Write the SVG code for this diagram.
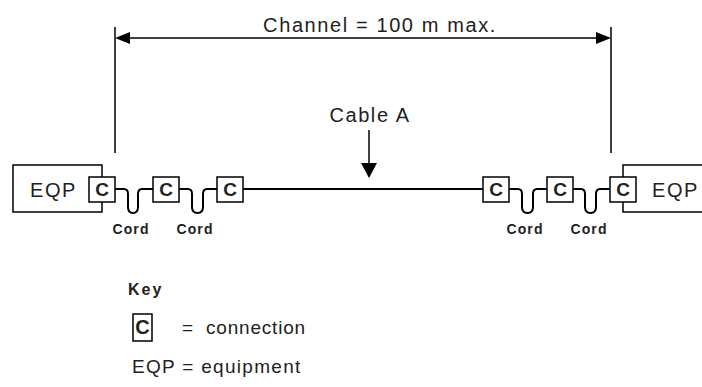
<svg xmlns="http://www.w3.org/2000/svg" width="702" height="387" viewBox="0 0 702 387">
<style>
  .ln { stroke:#000; stroke-width:1.5; fill:none; }
  .cab { stroke:#000; stroke-width:2; fill:none; }
  .box { stroke:#000; stroke-width:1.5; fill:#fff; }
  .t { font-family:"Liberation Sans", Arial, sans-serif; font-size:20px; fill:#222; letter-spacing:1.6px; }
  .c { font-family:"Liberation Sans", Arial, sans-serif; font-size:19px; font-weight:bold; fill:#222; text-anchor:middle; }
  .cord { font-family:"Liberation Sans", Arial, sans-serif; font-size:14px; font-weight:bold; fill:#222; text-anchor:middle; letter-spacing:1.1px; }
  .k { font-family:"Liberation Sans", Arial, sans-serif; font-size:19px; fill:#222; letter-spacing:0.8px; }
</style>
<g id="channel">
  <line class="ln" x1="115" y1="27" x2="115" y2="153"/>
  <line class="ln" x1="611" y1="27" x2="611" y2="153"/>
  <line class="ln" x1="128" y1="38" x2="598" y2="38"/>
  <polygon points="115,38 130,32 130,44" fill="#000"/>
  <polygon points="611,38 596,32 596,44" fill="#000"/>
  <text class="t" x="380" y="32" text-anchor="middle">Channel = 100 m max.</text>
</g>
<g id="cableA-label">
  <text class="t" x="370" y="122" text-anchor="middle">Cable A</text>
  <line class="ln" x1="369" y1="130" x2="369" y2="164"/>
  <polygon points="361,163 377,163 369,178" fill="#000"/>
</g>
<g id="connectors">
  <line class="cab" x1="242" y1="189" x2="483" y2="189"/>
  <path class="cab" d="M115,189 H124 Q128,189 128,194 V207 Q128,213 133,213 Q138,213 138,207 V194 Q138,189 142,189 H153"/>
  <path class="cab" d="M179,189 H188 Q192,189 192,194 V207 Q192,213 197.5,213 Q203,213 203,207 V194 Q203,189 207,189 H217"/>
  <path class="cab" d="M509,189 H518 Q522,189 522,194 V207 Q522,213 527.5,213 Q533,213 533,207 V194 Q533,189 537,189 H547"/>
  <path class="cab" d="M572,189 H581 Q585,189 585,194 V207 Q585,213 590.5,213 Q596,213 596,207 V194 Q596,189 600,189 H610"/>
</g>
<g id="eqp-left">
  <rect class="box" x="13" y="165" width="89" height="47"/>
  <text class="t" x="30" y="197">EQP</text>
</g>
<g id="eqp-right">
  <rect class="box" x="623" y="165" width="90" height="47"/>
  <text class="t" x="652" y="197">EQP</text>
</g>
<g id="c1"><rect class="box" x="89" y="177" width="26" height="25"/><text class="c" x="102" y="196">C</text></g>
<g id="c2"><rect class="box" x="153" y="177" width="26" height="25"/><text class="c" x="166" y="196">C</text></g>
<g id="c3"><rect class="box" x="217" y="177" width="26" height="25"/><text class="c" x="230" y="196">C</text></g>
<g id="c4"><rect class="box" x="483" y="177" width="26" height="25"/><text class="c" x="496" y="196">C</text></g>
<g id="c5"><rect class="box" x="547" y="177" width="26" height="25"/><text class="c" x="560" y="196">C</text></g>
<g id="c6"><rect class="box" x="610" y="177" width="26" height="25"/><text class="c" x="623" y="196">C</text></g>
<g id="cord-labels">
  <text class="cord" x="131" y="234">Cord</text>
  <text class="cord" x="195" y="234">Cord</text>
  <text class="cord" x="525" y="234">Cord</text>
  <text class="cord" x="589" y="234">Cord</text>
</g>
<g id="key">
  <text x="128" y="295" style="font-family:'Liberation Sans', Arial, sans-serif; font-size:16px; font-weight:bold; fill:#222; letter-spacing:2px;">Key</text>
  <rect class="box" x="133" y="314" width="19" height="27"/>
  <text class="c" x="142.5" y="334" style="font-size:20px">C</text>
  <text class="k" x="182" y="334">=</text>
  <text class="k" x="206" y="334">connection</text>
  <text class="k" x="132" y="373" style="letter-spacing:1.3px">EQP = equipment</text>
</g>
</svg>
